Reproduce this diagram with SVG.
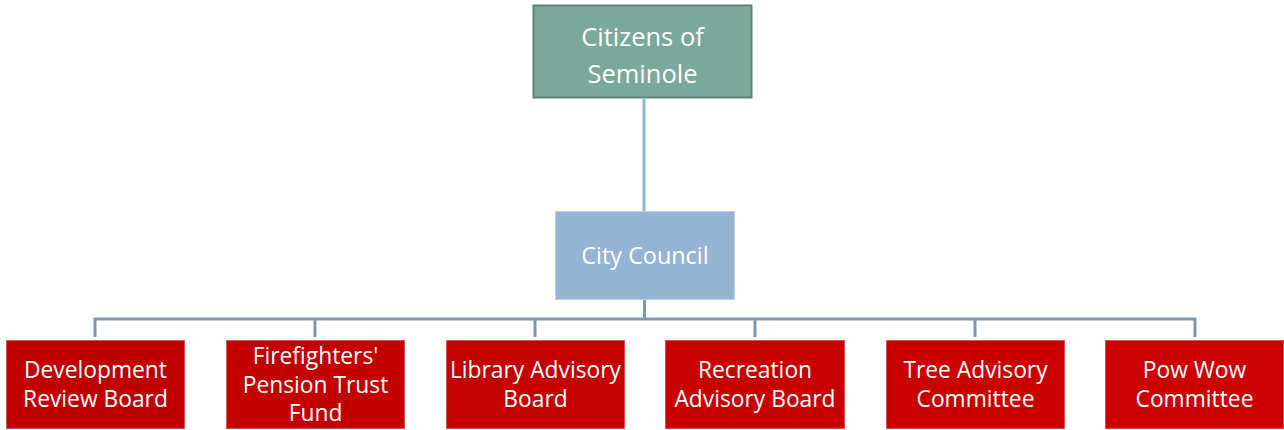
<svg xmlns="http://www.w3.org/2000/svg" width="1284" height="430" viewBox="0 0 1284 430">
<style>
text{font-family:"Open Sans","Noto Sans",sans-serif;fill:#fff;text-anchor:middle;dominant-baseline:central}
.t{font-size:25.5px}
.c{font-size:23.4px}
.s{font-size:22.8px}
.red{stroke:#e05050;stroke-width:1}
.ln{fill:none;stroke-width:3}
</style>
<rect width="1284" height="430" fill="#fff"/>
<g id="connectors">
<line class="ln" x1="644" y1="99" x2="644" y2="211" stroke="#95b3d7"/>
<path class="ln" stroke="#7f96ad" d="M644.5 299V319M95 337V319H1195V337M315 319V337M535 319V337M755 319V337M975 319V337"/>
</g>
<g id="citizens">
<rect x="533.5" y="5.5" width="218" height="92" fill="#7aa99b" stroke="#5f8277" stroke-width="2"/>
<text class="t" x="642.5" y="36">Citizens of</text>
<text class="t" x="642.5" y="73">Seminole</text>
</g>
<g id="council">
<rect x="555.5" y="211.5" width="179" height="88" fill="#95b3d3" stroke="#b9cde3" stroke-width="1"/>
<text class="c" x="645" y="255">City Council</text>
</g>
<g id="drb">
<rect class="red" x="6.5" y="340.5" width="178" height="88" fill="#c00000"/>
<text class="s" x="95.5" y="369">Development</text>
<text class="s" x="95.5" y="398">Review Board</text>
</g>
<g id="fptf">
<rect class="red" x="226.5" y="340.5" width="178" height="88" fill="#c20000"/>
<text class="s" x="315.5" y="355">Firefighters'</text>
<text class="s" x="315.5" y="384">Pension Trust</text>
<text class="s" x="315.5" y="412">Fund</text>
</g>
<g id="lab">
<rect class="red" x="446.5" y="340.5" width="178" height="88" fill="#c40000"/>
<text class="s" x="535.5" y="369">Library Advisory</text>
<text class="s" x="535.5" y="398">Board</text>
</g>
<g id="rab">
<rect class="red" x="665.5" y="340.5" width="179" height="88" fill="#c80000"/>
<text class="s" x="755" y="369">Recreation</text>
<text class="s" x="755" y="398">Advisory Board</text>
</g>
<g id="tac">
<rect class="red" x="886.5" y="340.5" width="178" height="88" fill="#ca0000"/>
<text class="s" x="975.5" y="369">Tree Advisory</text>
<text class="s" x="975.5" y="398">Committee</text>
</g>
<g id="pwc">
<rect class="red" x="1105.5" y="340.5" width="178" height="88" fill="#cc0000"/>
<text class="s" x="1194.5" y="369">Pow Wow</text>
<text class="s" x="1194.5" y="398">Committee</text>
</g>
</svg>
